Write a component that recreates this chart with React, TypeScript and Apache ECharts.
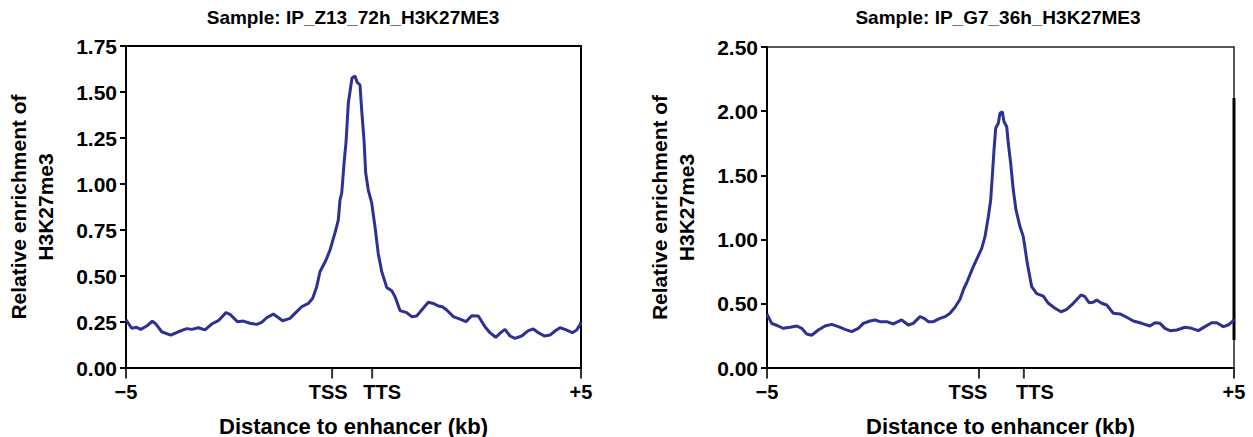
import React, { useEffect, useRef } from "react";
import * as echarts from "echarts";

// ---- Left panel data (distance in kb, relative enrichment) ----
const leftTitle = "Sample: IP_Z13_72h_H3K27ME3";
const leftX = [
  -5.0, -4.985, -4.875, -4.765, -4.677, -4.545, -4.422, -4.341, -4.216, -4.018,
  -3.85, -3.666, -3.556, -3.41, -3.264, -3.117, -2.971, -2.802, -2.714, -2.553,
  -2.421, -2.275, -2.128, -2.018, -1.908, -1.762, -1.557, -1.396, -1.286, -1.139,
  -0.993, -0.897, -0.809, -0.736, -0.604, -0.516, -0.46, -0.407, -0.334, -0.297,
  -0.259, -0.202, -0.165, -0.114, -0.077, -0.033, 0.033, 0.077, 0.143, 0.18,
  0.231, 0.268, 0.325, 0.4, 0.473, 0.545, 0.62, 0.73, 0.84, 0.912,
  1.022, 1.169, 1.279, 1.389, 1.499, 1.644, 1.754, 1.864, 1.952, 2.048,
  2.194, 2.341, 2.473, 2.598, 2.743, 2.89, 2.999, 3.125, 3.235, 3.33,
  3.44, 3.549, 3.696, 3.842, 3.952, 4.062, 4.194, 4.319, 4.429, 4.538,
  4.648, 4.809, 4.905, 4.978, 5.0,
];
const leftY = [
  0.262, 0.257, 0.216, 0.221, 0.21, 0.228, 0.254, 0.239, 0.197, 0.179,
  0.197, 0.214, 0.21, 0.219, 0.207, 0.239, 0.257, 0.301, 0.292, 0.252,
  0.255, 0.243, 0.237, 0.248, 0.273, 0.293, 0.257, 0.27, 0.297, 0.333,
  0.351, 0.379, 0.442, 0.523, 0.587, 0.641, 0.69, 0.734, 0.804, 0.913,
  0.951, 1.13, 1.223, 1.44, 1.502, 1.576, 1.587, 1.554, 1.538, 1.402,
  1.239, 1.06, 0.967, 0.897, 0.766, 0.62, 0.525, 0.438, 0.42, 0.388,
  0.312, 0.301, 0.279, 0.283, 0.315, 0.357, 0.351, 0.337, 0.333, 0.315,
  0.279, 0.266, 0.252, 0.284, 0.283, 0.224, 0.192, 0.167, 0.192, 0.21,
  0.174, 0.161, 0.174, 0.203, 0.212, 0.192, 0.174, 0.179, 0.201, 0.219,
  0.21, 0.192, 0.207, 0.234, 0.25,
];
const leftYMax = 1.75;
const leftYStep = 0.25;
const leftTickValues = [-5, -0.47, 0.41, 5];
// horizontal nudge of each x label relative to its tick (px)
const leftLabelShift = [0, -4, 10, 0];

// ---- Right panel data ----
const rightTitle = "Sample: IP_G7_36h_H3K27ME3";
const rightX = [
  -5.0, -4.9, -4.758, -4.651, -4.507, -4.364, -4.257, -4.15, -4.043, -3.901,
  -3.758, -3.615, -3.473, -3.33, -3.187, -3.045, -2.938, -2.794, -2.687, -2.58,
  -2.437, -2.295, -2.116, -1.974, -1.867, -1.724, -1.638, -1.546, -1.439, -1.296,
  -1.188, -1.081, -0.974, -0.867, -0.782, -0.724, -0.582, -0.402, -0.332, -0.261,
  -0.21, -0.167, -0.139, -0.103, -0.047, -0.011, 0.039, 0.075, 0.133, 0.167,
  0.218, 0.274, 0.332, 0.418, 0.488, 0.574, 0.668, 0.775, 0.917, 1.024,
  1.167, 1.296, 1.418, 1.559, 1.724, 1.81, 1.895, 1.987, 2.06, 2.167,
  2.274, 2.415, 2.559, 2.702, 2.844, 3.024, 3.201, 3.308, 3.415, 3.522,
  3.63, 3.773, 3.951, 4.094, 4.236, 4.379, 4.522, 4.63, 4.771, 4.878,
  4.964, 5.0,
];
const rightY = [
  0.42, 0.348, 0.327, 0.309, 0.317, 0.327, 0.309, 0.265, 0.255, 0.296,
  0.327, 0.34, 0.322, 0.301, 0.283, 0.309, 0.348, 0.366, 0.374, 0.361,
  0.361, 0.343, 0.374, 0.335, 0.348, 0.4, 0.387, 0.361, 0.361, 0.387,
  0.4, 0.426, 0.473, 0.535, 0.621, 0.664, 0.789, 0.932, 1.023, 1.178,
  1.308, 1.542, 1.698, 1.867, 1.906, 1.984, 1.996, 1.918, 1.879, 1.75,
  1.594, 1.386, 1.231, 1.1, 1.023, 0.815, 0.633, 0.58, 0.56, 0.504,
  0.465, 0.438, 0.457, 0.504, 0.569, 0.555, 0.509, 0.512, 0.53, 0.504,
  0.491, 0.426, 0.421, 0.395, 0.366, 0.348, 0.327, 0.353, 0.348, 0.309,
  0.291, 0.296, 0.317, 0.309, 0.291, 0.322, 0.353, 0.353, 0.322, 0.335,
  0.361, 0.38,
];
const rightYMax = 2.5;
const rightYStep = 0.5;
const rightTickValues = [-5, -0.46, 0.5, 5];
const rightLabelShift = [0, -11, 11, 0];

// ---- Shared labels ----
const xTickLabels = ["\u22125", "TSS", "TTS", "+5"];
const xAxisName = "Distance to enhancer (kb)";
const yAxisName = "Relative enrichment of\nH3K27me3";

const FONT = "'Liberation Sans', Arial, Helvetica, sans-serif";
const LINE_COLOR = "#2E3191";

function makeX(gridIndex: number, ticks: number[], shifts: number[]) {
  const rich: Record<string, any> = {};
  ticks.forEach((_, i) => {
    const s = shifts[i];
    rich["t" + i] = {
      fontSize: 20,
      fontWeight: "bold",
      fontFamily: FONT,
      color: "#000",
      padding: s >= 0 ? [0, 0, 0, 2 * s] : [0, -2 * s, 0, 0],
    };
  });
  const fmt = (v: number) => {
    for (let i = 0; i < ticks.length; i++) {
      if (Math.abs(ticks[i] - v) < 1e-6) return "{t" + i + "|" + xTickLabels[i] + "}";
    }
    return "";
  };
  return {
    gridIndex,
    type: "value",
    min: -5,
    max: 5,
    axisLine: { show: true, onZero: false, lineStyle: { color: "#000", width: 2 } },
    axisTick: { show: false },
    axisLabel: {
      show: true,
      customValues: ticks,
      formatter: fmt,
      rich,
      color: "#000",
      fontSize: 20,
      fontWeight: "bold",
      fontFamily: FONT,
      margin: 14,
    },
    splitLine: { show: false },
    name: xAxisName,
    nameLocation: "middle",
    nameGap: 47,
    nameTextStyle: { color: "#000", fontSize: 22, fontWeight: "bold", fontFamily: FONT },
  };
}

function makeY(gridIndex: number, max: number, step: number) {
  return {
    gridIndex,
    type: "value",
    min: 0,
    max,
    interval: step,
    axisLine: { show: true, onZero: false, lineStyle: { color: "#000", width: 2 } },
    axisTick: { show: true, length: 6, inside: false, lineStyle: { color: "#000", width: 2 } },
    axisLabel: {
      formatter: (v: number) => v.toFixed(2),
      color: "#000",
      fontSize: 21,
      fontWeight: "bold",
      fontFamily: FONT,
      margin: 9,
    },
    splitLine: { show: false },
    name: yAxisName,
    nameLocation: "middle",
    nameRotate: 90,
    nameGap: 67,
    nameTextStyle: {
      color: "#000",
      fontSize: 21,
      fontWeight: "bold",
      fontFamily: FONT,
      lineHeight: 27,
    },
  };
}

function tickSeries(axisIndex: number, ticks: number[]) {
  return {
    type: "scatter",
    xAxisIndex: axisIndex,
    yAxisIndex: axisIndex,
    data: ticks.map((t) => [t, 0]),
    symbol: "rect",
    symbolSize: [2, 11],
    symbolOffset: [0, 5],
    clip: false,
    silent: true,
    itemStyle: { color: "#000" },
    z: 5,
  };
}

export default function App() {
  const ref = useRef<HTMLDivElement>(null);
  useEffect(() => {
    if (!ref.current) return;
    const chart = echarts.init(ref.current, null, { renderer: "svg" });
    const leftData = leftX.map((x, i) => [x, leftY[i]]);
    const rightData = rightX.map((x, i) => [x, rightY[i]]);
    const titleStyle = { color: "#000", fontSize: 19, fontWeight: "bold", fontFamily: FONT };
    chart.setOption({
      animation: false,
      backgroundColor: "#fff",
      title: [
        { text: leftTitle, left: 353, top: 8, padding: 0, textAlign: "center", textStyle: titleStyle },
        { text: rightTitle, left: 998, top: 8, padding: 0, textAlign: "center", textStyle: titleStyle },
      ],
      grid: [
        {
          left: 126,
          right: 1253 - 581,
          top: 46,
          bottom: 437 - 368,
          outerBoundsMode: "none",
          containLabel: false,
          show: true,
          borderColor: "#000",
          borderWidth: 2,
          backgroundColor: "transparent",
        },
        {
          left: 767,
          right: 1253 - 1234,
          top: 47,
          bottom: 437 - 368,
          outerBoundsMode: "none",
          containLabel: false,
          show: true,
          borderColor: "#222",
          borderWidth: 1.5,
          backgroundColor: "transparent",
        },
      ],
      xAxis: [makeX(0, leftTickValues, leftLabelShift), makeX(1, rightTickValues, rightLabelShift)],
      yAxis: [makeY(0, leftYMax, leftYStep), makeY(1, rightYMax, rightYStep)],
      series: [
        {
          type: "line",
          xAxisIndex: 0,
          yAxisIndex: 0,
          data: leftData,
          showSymbol: false,
          smooth: false,
          lineStyle: { color: LINE_COLOR, width: 3 },
          itemStyle: { color: LINE_COLOR },
        },
        {
          type: "line",
          xAxisIndex: 1,
          yAxisIndex: 1,
          data: rightData,
          showSymbol: false,
          smooth: false,
          lineStyle: { color: LINE_COLOR, width: 3 },
          itemStyle: { color: LINE_COLOR },
        },
        tickSeries(0, leftTickValues),
        tickSeries(1, rightTickValues),
      ],
      graphic: [
        {
          type: "line",
          shape: { x1: 1234, y1: 98, x2: 1234, y2: 340 },
          style: { stroke: "#000", lineWidth: 3 },
          silent: true,
        },
      ],
    });
    return () => chart.dispose();
  }, []);
  return (
    <div
      ref={ref}
      style={{ position: "absolute", left: 0, top: 0, width: 1253, height: 437 }}
    />
  );
}
